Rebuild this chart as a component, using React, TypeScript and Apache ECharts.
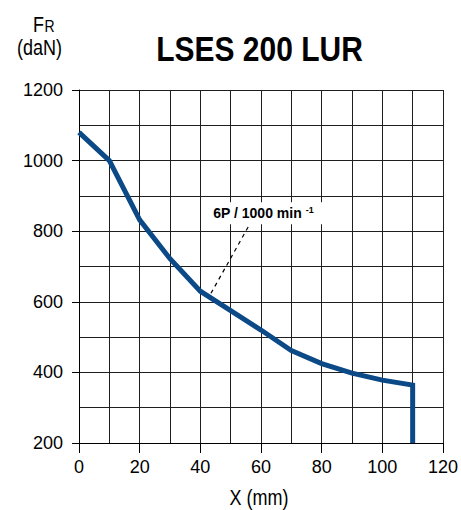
import React, { useEffect, useRef } from "react";
import * as echarts from "echarts";

const xValues = [0, 10, 20, 30, 40, 50, 60, 70, 80, 90, 100, 110, 110];
const frValues = [1080, 1000, 832, 722, 630, 575, 520, 462, 425, 398, 378, 364, 200];
const leaderLine = [[43.5, 624], [56.5, 823]];
const labelPos = [60.8, 851];
const titleText = "LSES 200 LUR";
const labelText = "6P / 1000 min ";
const labelSup = "-1";

const FONT = "'Liberation Sans', Arial, sans-serif";

export default function App() {
  const ref = useRef<HTMLDivElement>(null);
  useEffect(() => {
    if (!ref.current) return;
    const chart = echarts.init(ref.current, undefined, { renderer: "svg" });
    const gridColor = "#1e1e1e";
    const txt = (text: string, x: number, y: number, size: number, align: string, extra: any = {}) => ({
      type: "text",
      x,
      y,
      scaleY: 1.2,
      style: { text, fontSize: size, fontFamily: FONT, fill: "#000", align, verticalAlign: "middle", ...extra },
    });
    chart.setOption({
      animation: false,
      backgroundColor: "#fff",
      textStyle: { fontFamily: FONT },
      grid: { left: 79, right: 14.5, top: 90, bottom: 67, containLabel: false },
      xAxis: {
        type: "value",
        min: 0,
        max: 120,
        interval: 20,
        axisLine: { show: true, lineStyle: { color: "#000", width: 1 } },
        axisTick: { show: true, length: 10, lineStyle: { color: "#000", width: 1 } },
        axisLabel: { fontSize: 18, color: "#000", margin: 15, fontFamily: FONT, formatter: (v: number) => String(v) },
        splitLine: { show: true, lineStyle: { color: gridColor, width: 1 } },
        minorTick: { show: false, splitNumber: 2 },
        minorSplitLine: { show: true, lineStyle: { color: gridColor, width: 1 } },
      },
      yAxis: {
        type: "value",
        min: 200,
        max: 1200,
        interval: 200,
        axisLine: { show: true, lineStyle: { color: "#000", width: 1 } },
        axisTick: { show: true, length: 7, lineStyle: { color: "#000", width: 1 } },
        axisLabel: { fontSize: 18, color: "#000", margin: 16, fontFamily: FONT, formatter: (v: number) => String(v) },
        splitLine: { show: true, lineStyle: { color: gridColor, width: 1 } },
        minorTick: { show: false, splitNumber: 2 },
        minorSplitLine: { show: true, lineStyle: { color: gridColor, width: 1 } },
      },
      graphic: [
        { ...txt(titleText, 259.5, 49, 30, "center", { fontWeight: "bold" }), scaleY: 1.15 },
        txt("F", 33, 24, 18, "left"),
        txt("R", 44.5, 26, 14, "left"),
        txt("(daN)", 17, 47.5, 18, "left"),
        txt("X (mm)", 259, 497, 18, "center"),
      ],
      series: [
        {
          type: "line",
          data: xValues.map((x, i) => [x, frValues[i]]),
          showSymbol: false,
          symbol: "none",
          lineStyle: { color: "#0b4a87", width: 5, join: "miter" },
          z: 3,
          markLine: {
            silent: true,
            symbol: "none",
            label: { show: false },
            lineStyle: { color: "#000", width: 1.2, type: [4, 4] },
            data: [[{ coord: leaderLine[0] }, { coord: leaderLine[1] }]],
          },
          markPoint: {
            silent: true,
            symbol: "rect",
            symbolSize: 1,
            itemStyle: { color: "rgba(0,0,0,0)" },
            data: [
              {
                coord: labelPos,
                label: {
                  show: true,
                  position: "inside",
                  formatter: "{a|" + labelText + "}{s|" + labelSup + "}",
                  backgroundColor: "#fff",
                  padding: [3, 9, 3, 9],
                  rich: {
                    a: { fontSize: 14, fontWeight: "bold", color: "#000", fontFamily: FONT, lineHeight: 16 },
                    s: { fontSize: 9, fontWeight: "bold", color: "#000", fontFamily: FONT, lineHeight: 10, verticalAlign: "top" },
                  },
                },
              },
            ],
          },
        },
      ],
    });
    return () => chart.dispose();
  }, []);
  return <div ref={ref} style={{ width: 461, height: 510, position: "absolute", left: 0, top: 0 }} />;
}
